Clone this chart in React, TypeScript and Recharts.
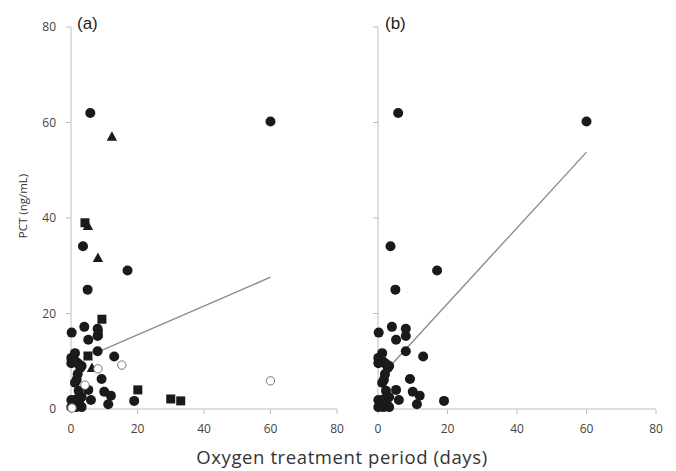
import React from "react";
import { ScatterChart, Scatter, XAxis, YAxis } from "recharts";

// Filled circles (shared by both panels)
const circlesX = [60, 5.8, 3.6, 17, 5, 0.2, 4, 8, 8, 5.2, 8, 13, 1.2, 0.1, 0.1, 1.5, 3.2, 2.8, 2, 1.7, 1.2, 9.2, 2.3, 5.2, 10, 12, 6, 19, 11.2, 0.1, 1.5, 3.2, 0.1, 1.5, 3.2, 2.5, 0.8, 2.2];
const circlesY = [60.2, 62, 34.1, 29, 25, 16, 17.2, 16.8, 15.3, 14.5, 12.1, 11, 11.7, 10.7, 9.6, 9.9, 9, 8.6, 7.3, 6.1, 5.5, 6.3, 3.8, 4, 3.6, 2.8, 1.9, 1.7, 1, 1.9, 2, 2.5, 0.4, 0.4, 0.4, 1.2, 10.3, 9.5];

// Panel (a) extra groups
const squaresX = [4.2, 9.3, 8.2, 5.1, 20.1, 30, 33];
const squaresY = [39, 18.8, 15.8, 11.1, 4, 2.1, 1.7];
const trianglesX = [12.3, 5.1, 8.1, 6.3];
const trianglesY = [57, 38.3, 31.6, 8.6];
const openX = [60, 15.3, 8.1, 4.2, 0.3];
const openY = [5.9, 9.2, 8.4, 5, 0.2];

// Regression line endpoints
const regAX = [8, 60];
const regAY = [11.9, 27.6];
const regBX = [3.4, 60];
const regBY = [8.9, 53.8];

const axisTicks = [0, 20, 40, 60, 80];

const zip = (xs: number[], ys: number[]) => xs.map((x, i) => ({ x, y: ys[i] }));

const circles = zip(circlesX, circlesY);
const squares = zip(squaresX, squaresY);
const triangles = zip(trianglesX, trianglesY);
const opens = zip(openX, openY);
const regA = zip(regAX, regAY);
const regB = zip(regBX, regBY);

const AXIS = "#bdbdbd";
const TICK_TEXT = { fill: "#444", fontSize: 12, fontFamily: "Open Sans" };
const MARK = "#1a1a1a";

const Circle = (p: any) => <circle cx={p.cx} cy={p.cy} r={5} fill={MARK} />;
const OpenCircle = (p: any) => (
  <circle cx={p.cx} cy={p.cy} r={4.2} fill="#fff" stroke="#777" strokeWidth={1} />
);
const Square = (p: any) => <rect x={p.cx - 4.5} y={p.cy - 4.5} width={9} height={9} fill={MARK} />;
const Triangle = (p: any) => (
  <polygon
    points={`${p.cx},${p.cy - 5.5} ${p.cx - 5.2},${p.cy + 4} ${p.cx + 5.2},${p.cy + 4}`}
    fill={MARK}
  />
);
const Empty = () => <g />;

export default function App() {
  return (
    <div style={{ position: "absolute", left: 0, top: 0, width: 676, height: 471, background: "#fff" }}>
      <div style={{ position: "absolute", left: 0, top: 0 }}>
        <ScatterChart width={350} height={471} margin={{ top: 27, right: 13, left: 0, bottom: 32 }}>
          <XAxis
            type="number"
            dataKey="x"
            domain={[0, 80]}
            ticks={axisTicks}
            height={30}
            stroke={AXIS}
            tickSize={5}
            tickMargin={10}
            tick={TICK_TEXT}
          />
          <YAxis
            type="number"
            dataKey="y"
            domain={[0, 80]}
            ticks={axisTicks}
            width={71}
            stroke={AXIS}
            tickSize={5}
            tickMargin={10}
            tick={TICK_TEXT}
          />
          <Scatter data={regA} line={{ stroke: "#8c8c8c", strokeWidth: 1.4 }} shape={Empty} isAnimationActive={false} />
          <Scatter data={circles} shape={Circle} isAnimationActive={false} />
          <Scatter data={squares} shape={Square} isAnimationActive={false} />
          <Scatter data={triangles} shape={Triangle} isAnimationActive={false} />
          <Scatter data={opens} shape={OpenCircle} isAnimationActive={false} />
        </ScatterChart>
      </div>
      <div style={{ position: "absolute", left: 340, top: 0 }}>
        <ScatterChart width={336} height={471} margin={{ top: 27, right: 20, left: 0, bottom: 32 }}>
          <XAxis
            type="number"
            dataKey="x"
            domain={[0, 80]}
            ticks={axisTicks}
            height={30}
            stroke={AXIS}
            tickSize={5}
            tickMargin={10}
            tick={TICK_TEXT}
          />
          <YAxis
            type="number"
            dataKey="y"
            domain={[0, 80]}
            ticks={axisTicks}
            width={38}
            stroke={AXIS}
            tickSize={5}
            tickFormatter={() => ""}
          />
          <Scatter data={regB} line={{ stroke: "#8c8c8c", strokeWidth: 1.4 }} shape={Empty} isAnimationActive={false} />
          <Scatter data={circles} shape={Circle} isAnimationActive={false} />
        </ScatterChart>
      </div>
      <svg
        width={676}
        height={471}
        style={{ position: "absolute", left: 0, top: 0, pointerEvents: "none" }}
      >
        <text x={77} y={29} fontSize={17} fontFamily="Liberation Sans" fill="#222">(a)</text>
        <text x={385} y={29} fontSize={17} fontFamily="Liberation Sans" fill="#222">(b)</text>
        <text
          x={22}
          y={206}
          transform="rotate(-90 22 206)"
          textAnchor="middle"
          dominantBaseline="central"
          fontSize={11.5}
          fontFamily="Open Sans"
          fill="#333"
        >
          PCT (ng/mL)
        </text>
        <text
          x={342}
          y={464}
          textAnchor="middle"
          fontSize={18.5}
          letterSpacing={0.6}
          fontFamily="Open Sans"
          fill="#333"
        >
          Oxygen treatment period (days)
        </text>
      </svg>
    </div>
  );
}
